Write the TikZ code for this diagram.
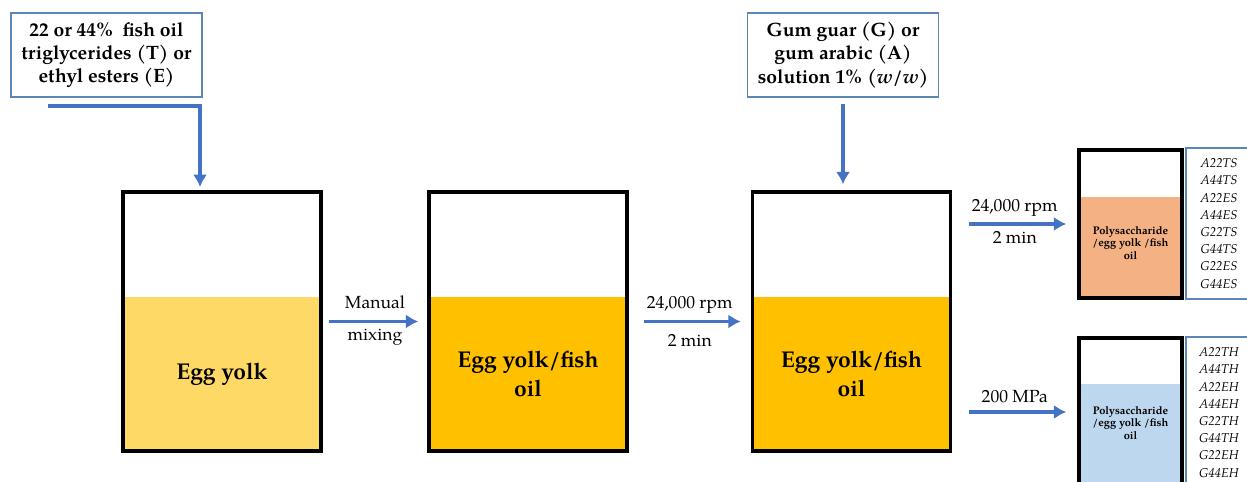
\documentclass[tikz,border=0pt]{standalone}
\usepackage{fontspec}
\setmainfont{TeX Gyre Pagella}
\usetikzlibrary{arrows.meta}

\definecolor{yolklight}{HTML}{FFD966}
\definecolor{yolkdark}{HTML}{FFC000}
\definecolor{salmon}{HTML}{F4B183}
\definecolor{paleblue}{HTML}{BDD7EE}
\definecolor{flowblue}{HTML}{4472C4}
\definecolor{boxblue}{HTML}{5B86B5}

\begin{document}
\begin{tikzpicture}[x=0.02cm,y=-0.02cm,>={Latex[length=7pt,width=8pt]}]
    \tikzstyle{every node}=[font=\fontsize{10}{12}\selectfont]
    \tikzstyle{beaker}=[draw=black,line width=2pt,inner sep=0pt,
        minimum width=3.96cm,minimum height=5.18cm]
    \tikzstyle{minibeaker}=[beaker,minimum width=2.06cm,minimum height=2.96cm]
    \tikzstyle{content}=[align=center,font=\fontsize{13}{16}\selectfont\bfseries]
    \tikzstyle{minicontent}=[align=center,font=\fontsize{6.3}{5.4}\selectfont\bfseries]
    \tikzstyle{inbox}=[draw=boxblue,line width=0.9pt,align=center,
        minimum width=3.82cm,minimum height=1.68cm,
        font=\fontsize{11}{13.3}\selectfont\bfseries]
    \tikzstyle{listbox}=[draw=boxblue,line width=0.9pt,align=center,
        minimum width=1.32cm,minimum height=3.02cm,
        font=\fontsize{7.3}{9.8}\selectfont\itshape]
    \tikzstyle{flow}=[->,draw=flowblue,line width=2.2pt]

    \useasboundingbox (0,0) rectangle (1247,482);

    % liquid levels
    \fill[yolklight] (123,297) rectangle (321,451);
    \fill[yolkdark] (429,297) rectangle (627,451);
    \fill[yolkdark] (753,297) rectangle (950,451);
    \fill[salmon] (1079,197) rectangle (1182,298);
    \fill[paleblue] (1079,384) rectangle (1182,486);

    % beakers
    \node[beaker] (b1) at (222,321.5) {};
    \node[beaker] (b2) at (528,321.5) {};
    \node[beaker] (b3) at (851.5,321.5) {};
    \node[minibeaker] (s1) at (1130.5,224) {};
    \node[minibeaker] (s2) at (1130.5,412) {};

    \node[content] (t1) at (222,374) {Egg yolk};
    \node[content] (t2) at (528,374) {Egg yolk/fish\\oil};
    \node[content] (t3) at (851.5,374) {Egg yolk/fish\\oil};
    \node[minicontent] (u1) at (1130.5,243) {Polysaccharide\\/egg yolk /fish\\oil};
    \node[minicontent] (u2) at (1130.5,423) {Polysaccharide\\/egg yolk /fish\\oil};

    % inputs
    \node[inbox] (oil) at (106.5,55)
        {22 or 44\%\ \ fish oil\\triglycerides (T) or\\ethyl esters (E)};
    \node[inbox] (gum) at (843,55)
        {Gum guar (G) or\\gum arabic (A)\\solution 1\% (\textit{w}/\textit{w})};

    % sample codes
    \node[listbox] (c1) at (1219,223.5)
        {A22TS\\A44TS\\A22ES\\A44ES\\G22TS\\G44TS\\G22ES\\G44ES};
    \node[listbox] (c2) at (1219,412.5)
        {A22TH\\A44TH\\A22EH\\A44EH\\G22TH\\G44TH\\G22EH\\G44EH};

    % flows
    \coordinate (oilin) at (48,106);
    \coordinate (oilend) at (200,187);
    \draw[flow] (oilin) -| (oilend);

    \draw[flow,shorten <=0.12cm,shorten >=0.12cm] (gum.south) -- (gum.south |- b3.north);

    \draw[flow,shorten <=0.12cm,shorten >=0.18cm] (b1) -- (b2)
    node[midway,above=3pt]{Manual}
    node[midway,below=0pt]{mixing};

    \draw[flow,shorten <=0.3cm,shorten >=0.2cm] (b2) -- (b3)
    node[midway,above=0pt]{24,000 rpm}
    node[midway,below=3pt]{2 min};

    \draw[flow,shorten <=0.34cm,shorten >=0.22cm] (b3.east |- s1.west) -- (s1.west)
    node[midway,above=0pt]{24,000 rpm}
    node[midway,below=0pt]{2 min};

    \draw[flow,shorten <=0.34cm,shorten >=0.22cm] (b3.east |- s2.west) -- (s2.west)
    node[midway,above=0.5pt]{200 MPa};
\end{tikzpicture}
\end{document}
